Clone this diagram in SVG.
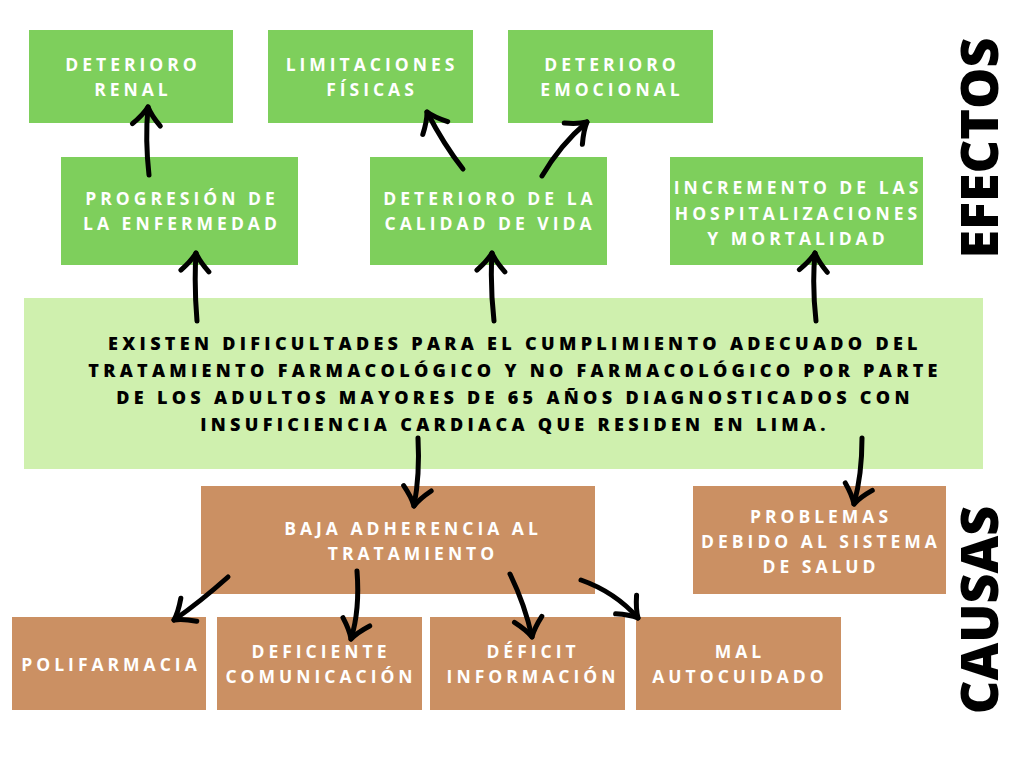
<svg xmlns="http://www.w3.org/2000/svg" width="1024" height="768" viewBox="0 0 1024 768">
  <style>
    .eff { fill: #7ecf5c; }
    .prob { fill: #cff0ae; }
    .cau { fill: #cb9063; }
    .lbl { font-family: "Open Sans", "Liberation Sans", sans-serif; font-weight: 700; font-size: 17.5px; letter-spacing: 4px; fill: #ffffff; text-anchor: middle; }
    .main { font-family: "Open Sans", "Liberation Sans", sans-serif; font-weight: 800; font-size: 18px; letter-spacing: 4.3px; fill: #000000; text-anchor: middle; }
    .side { font-family: "Open Sans", "Liberation Sans", sans-serif; font-weight: 800; font-size: 52px; fill: #000000; text-anchor: middle; }
    .arr { fill: none; stroke: #000000; stroke-width: 5; stroke-linecap: round; stroke-linejoin: round; }
  </style>
  <defs>
    <marker id="head" markerUnits="userSpaceOnUse" viewBox="-24 -18 28 36" refX="0" refY="0" markerWidth="28" markerHeight="36" orient="auto">
      <path d="M -18 -14 Q -8 -4 0 0 Q -8 4 -18 14" fill="none" stroke="#000000" stroke-width="5" stroke-linecap="round" stroke-linejoin="round"/>
    </marker>
  </defs>
  <rect width="1024" height="768" fill="#ffffff"/>

  <!-- effects, top row -->
  <g id="deterioro-renal">
    <rect class="eff" x="29" y="30" width="204" height="93"/>
    <text class="lbl" x="133" y="71">DETERIORO</text>
    <text class="lbl" x="133" y="96">RENAL</text>
  </g>
  <g id="limitaciones-fisicas">
    <rect class="eff" x="268" y="30" width="205" height="93"/>
    <text class="lbl" x="372" y="71">LIMITACIONES</text>
    <text class="lbl" x="372" y="96">FÍSICAS</text>
  </g>
  <g id="deterioro-emocional">
    <rect class="eff" x="508" y="30" width="205" height="93"/>
    <text class="lbl" x="612" y="71">DETERIORO</text>
    <text class="lbl" x="612" y="96">EMOCIONAL</text>
  </g>

  <!-- effects, second row -->
  <g id="progresion">
    <rect class="eff" x="61" y="157" width="237" height="108"/>
    <text class="lbl" x="182" y="205">PROGRESIÓN DE</text>
    <text class="lbl" x="182" y="230">LA ENFERMEDAD</text>
  </g>
  <g id="calidad-de-vida">
    <rect class="eff" x="370" y="157" width="237" height="108"/>
    <text class="lbl" x="490" y="205">DETERIORO DE LA</text>
    <text class="lbl" x="490" y="230">CALIDAD DE VIDA</text>
  </g>
  <g id="hospitalizaciones">
    <rect class="eff" x="670" y="157" width="253" height="108"/>
    <text class="lbl" x="798" y="194">INCREMENTO DE LAS</text>
    <text class="lbl" x="798" y="220">HOSPITALIZACIONES</text>
    <text class="lbl" x="798" y="245">Y MORTALIDAD</text>
  </g>

  <!-- central problem -->
  <g id="problema-central">
    <rect class="prob" x="24" y="298" width="959" height="171"/>
    <text class="main" x="515" y="350">EXISTEN DIFICULTADES PARA EL CUMPLIMIENTO ADECUADO DEL</text>
    <text class="main" x="515" y="377">TRATAMIENTO FARMACOLÓGICO Y NO FARMACOLÓGICO POR PARTE</text>
    <text class="main" x="515" y="404">DE LOS ADULTOS MAYORES DE 65 AÑOS DIAGNOSTICADOS CON</text>
    <text class="main" x="515" y="431">INSUFICIENCIA CARDIACA QUE RESIDEN EN LIMA.</text>
  </g>

  <!-- causes -->
  <g id="baja-adherencia">
    <rect class="cau" x="201" y="486" width="394" height="108"/>
    <text class="lbl" x="413" y="535">BAJA ADHERENCIA AL</text>
    <text class="lbl" x="413" y="560">TRATAMIENTO</text>
  </g>
  <g id="sistema-de-salud">
    <rect class="cau" x="693" y="486" width="253" height="108"/>
    <text class="lbl" x="821" y="523">PROBLEMAS</text>
    <text class="lbl" x="821" y="548">DEBIDO AL SISTEMA</text>
    <text class="lbl" x="821" y="573">DE SALUD</text>
  </g>
  <g id="polifarmacia">
    <rect class="cau" x="12" y="617" width="194" height="93"/>
    <text class="lbl" x="111" y="671">POLIFARMACIA</text>
  </g>
  <g id="deficiente-comunicacion">
    <rect class="cau" x="217" y="617" width="205" height="93"/>
    <text class="lbl" x="321" y="658">DEFICIENTE</text>
    <text class="lbl" x="321" y="683">COMUNICACIÓN</text>
  </g>
  <g id="deficit-informacion">
    <rect class="cau" x="430" y="617" width="195" height="93"/>
    <text class="lbl" x="533" y="658">DÉFICIT</text>
    <text class="lbl" x="533" y="683">INFORMACIÓN</text>
  </g>
  <g id="mal-autocuidado">
    <rect class="cau" x="636" y="617" width="205" height="93"/>
    <text class="lbl" x="740" y="658">MAL</text>
    <text class="lbl" x="740" y="683">AUTOCUIDADO</text>
  </g>

  <!-- section labels -->
  <g id="label-efectos">
    <text class="side" transform="translate(998,148) rotate(-90)">EFECTOS</text>
  </g>
  <g id="label-causas">
    <text class="side" transform="translate(998,610) rotate(-90)">CAUSAS</text>
  </g>

  <!-- connectors -->
  <g id="connectors">
    <path class="arr" marker-end="url(#head)" d="M 149 175 Q 145 140 148 107"/>
    <path class="arr" marker-end="url(#head)" d="M 197 321 Q 194 285 196 253"/>
    <path class="arr" marker-end="url(#head)" d="M 463 169 Q 444 145 427 112"/>
    <path class="arr" marker-end="url(#head)" d="M 542 176 Q 560 145 587 122"/>
    <path class="arr" marker-end="url(#head)" d="M 494 321 Q 490 285 492 253"/>
    <path class="arr" marker-end="url(#head)" d="M 816 321 Q 812 285 815 253"/>
    <path class="arr" marker-end="url(#head)" d="M 418 438 Q 420 475 414 506"/>
    <path class="arr" marker-end="url(#head)" d="M 862 438 Q 862 475 854 504"/>
    <path class="arr" marker-end="url(#head)" d="M 228 577 Q 200 602 174 620"/>
    <path class="arr" marker-end="url(#head)" d="M 357 571 Q 360 610 351 639"/>
    <path class="arr" marker-end="url(#head)" d="M 510 574 Q 525 605 532 637"/>
    <path class="arr" marker-end="url(#head)" d="M 581 580 Q 615 592 638 618"/>
  </g>
</svg>
